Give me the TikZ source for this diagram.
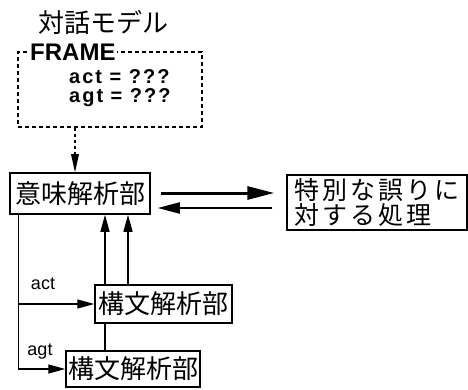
\documentclass[tikz,border=0pt]{standalone}
\usepackage{fontspec}
\setmainfont{Liberation Sans}
\newfontfamily\latsp[LetterSpace=10]{Liberation Sans}
\newfontfamily\jp{Noto Sans CJK JP}
\newfontfamily\jpsp[LetterSpace=12]{Noto Sans CJK JP}
\usetikzlibrary{arrows.meta}
\begin{document}
\begin{tikzpicture}[x=1pt,y=-1pt,
  jpbox/.style={draw,line width=1.5pt,inner sep=0pt,font=\jp\fontsize{26}{26}\selectfont,fill=white},
  lat/.style={font=\latsp\bfseries\fontsize{20}{20.5}\selectfont,inner sep=0pt},
  lbl/.style={font=\fontsize{18}{18}\selectfont,inner sep=0pt},
  conn/.style={line width=1.4pt},
  arr/.style={line width=1.4pt,-{Triangle[length=17pt,width=9pt]}},
  bigarr/.style={line width=3pt,-{Triangle[length=27pt,width=13pt]}},
  medarr/.style={line width=2pt,-{Triangle[length=22pt,width=11pt]}},
  dotarr/.style={line width=1.8pt,dash pattern=on 3pt off 3pt,-{Triangle[length=18pt,width=8pt,line width=0pt]}}]
\useasboundingbox (0,0) rectangle (468,390);
% title
\node[font=\jp\fontsize{26}{26}\selectfont,inner sep=0pt] (title) at (103,22) {対話モデル};
% frame
\node[draw,line width=1.8pt,dash pattern=on 4pt off 3pt,minimum width=184pt,minimum height=75pt,inner sep=0pt] (frame) at (110,89.5) {};
\node[font=\bfseries\fontsize{24}{24}\selectfont,fill=white,inner sep=1pt,anchor=west] (framelbl) at (29,52) {FRAME};
\node[lat,anchor=west] (slotact) at (69,77) {act = ???};
\node[lat,anchor=west] (slotagt) at (69,97.5) {agt = ???};
% boxes
\node[jpbox,minimum width=140pt,minimum height=41pt] (imi) at (80,193.5) {意味解析部};
\node[jpbox,minimum width=180pt,minimum height=55pt,align=left,font=\jpsp\fontsize{25}{25}\selectfont] (err) at (377,202.5) {特別な誤りに\\対する処理};
\node[jpbox,minimum width=137pt,minimum height=38pt] (up) at (163.5,304) {構文解析部};
\node[jpbox,minimum width=134pt,minimum height=36pt] (low) at (133,369) {構文解析部};
% dotted arrow
\draw[dotarr] ([xshift=-5pt]imi.north |- frame.south) -- ([xshift=-5pt]imi.north);
% arrows to/from err
\draw[bigarr] ([xshift=10pt,yshift=0.5pt]imi.east) -- ([xshift=-12pt,yshift=0.5pt]imi.east -| err.west);
\draw[medarr] ([xshift=-14pt,yshift=-14.5pt]imi.east -| err.west) -- ([xshift=7pt,yshift=-14.5pt]imi.east);
% up arrows
\draw[conn] ([xshift=25pt]imi.south |- low.north) -- ([xshift=25pt]imi.south |- up.south);
\draw[arr] ([xshift=25pt]imi.south |- up.north) -- ([xshift=25pt]imi.south);
\draw[arr] ([xshift=48pt]imi.south |- up.north) -- ([xshift=48pt]imi.south);
% left line with branches
\draw[arr] ([xshift=9pt]imi.south west) |- (low.west);
\draw[arr] ([xshift=9pt]imi.south west |- up.west) -- (up.west);
\node[lbl] (lact) at (43,284) {act};
\node[lbl] (lagt) at (40,352) {agt};
\end{tikzpicture}
\end{document}
